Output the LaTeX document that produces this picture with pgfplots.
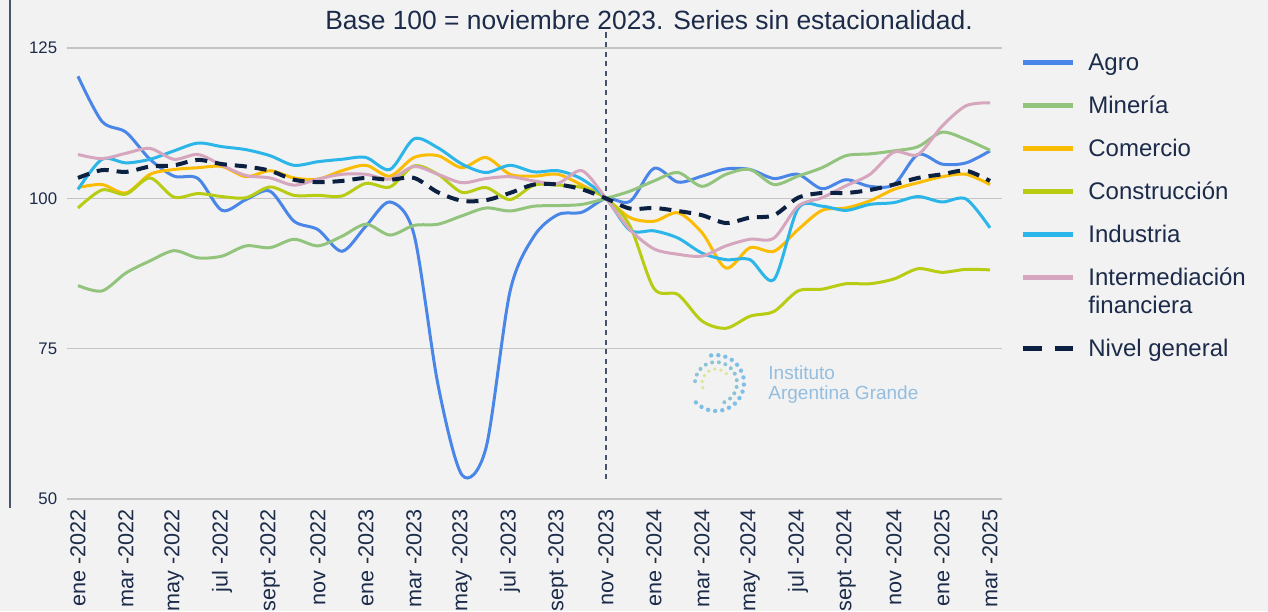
\documentclass[border=0pt]{standalone}
\usepackage{fontspec}
\setmainfont{Liberation Sans}
\usepackage{pgfplots}
\usepackage{pgfplotstable}
\pgfplotsset{compat=1.18}

\definecolor{agro}{HTML}{4A86E8}
\definecolor{mineria}{HTML}{93C47D}
\definecolor{comercio}{HTML}{FBBC04}
\definecolor{constr}{HTML}{B7CC12}
\definecolor{industria}{HTML}{2BB5E8}
\definecolor{interm}{HTML}{D5A6BD}
\definecolor{nivel}{HTML}{0C2142}
\definecolor{txt}{HTML}{1C2B4A}
\definecolor{bg}{HTML}{F2F2F2}
\definecolor{gridc}{HTML}{C4C4C4}
\definecolor{leftline}{HTML}{4A5570}
\definecolor{vline}{HTML}{46536B}
\definecolor{logotext}{HTML}{93BEE0}
\definecolor{logoblue}{HTML}{7FBFE6}
\definecolor{logogreen}{HTML}{BFD88A}
\definecolor{logoyellow}{HTML}{DDE39A}

\pgfplotstableread{
x agro mine come cons indu inte nive
0 120.3 85.5 101.8 98.4 101.5 107.3 103.4
1 112.8 84.6 102.3 101.4 106.5 106.6 104.7
2 111.0 87.6 100.9 100.7 105.9 107.5 104.4
3 106.5 89.6 104.0 103.4 106.5 108.3 105.3
4 103.7 91.3 104.8 100.2 107.9 106.5 105.5
5 103.3 90.1 105.1 100.8 109.2 107.3 106.4
6 98.0 90.4 105.3 100.3 108.6 105.5 105.7
7 99.8 92.1 103.6 100.1 108.1 103.8 105.3
8 101.2 91.8 104.6 101.9 107.1 103.4 104.6
9 96.2 93.2 103.4 100.5 105.5 102.2 103.1
10 94.8 92.1 103.2 100.5 106.1 103.2 102.7
11 91.2 93.7 104.6 100.4 106.5 104.0 102.9
12 95.4 95.7 105.5 102.5 106.8 104.0 103.4
13 99.4 93.9 103.7 101.9 104.8 103.2 103.1
14 94.0 95.5 106.8 105.4 109.9 105.3 103.4
15 69.0 95.7 107.1 104.0 108.4 104.0 101.0
16 54.0 97.1 105.1 101.0 105.7 102.6 99.6
17 58.5 98.4 106.8 101.8 104.3 103.3 99.7
18 84.5 97.9 104.0 99.8 105.5 103.6 100.9
19 93.7 98.7 103.7 102.2 104.4 102.9 102.3
20 97.3 98.8 104.0 102.2 104.6 102.5 102.3
21 97.7 99.0 102.2 101.8 103.2 104.6 101.5
22 100.0 100.0 100.0 100.0 100.0 100.0 100.0
23 99.5 101.2 96.8 95.4 94.7 94.8 98.3
24 105.0 102.9 96.2 85.0 94.6 91.6 98.4
25 102.7 104.3 97.6 84.0 93.4 90.7 97.9
26 103.7 102.0 94.3 79.6 90.9 90.4 97.2
27 104.9 104.0 88.4 78.4 89.8 92.1 95.9
28 104.8 104.8 91.8 80.4 89.8 93.2 96.8
29 103.3 102.3 91.2 81.2 86.5 93.4 97.2
30 104.0 103.7 94.8 84.6 98.3 98.7 100.1
31 101.6 105.1 98.0 84.9 98.7 100.1 100.9
32 103.1 107.1 98.4 85.8 98.0 102.1 100.9
33 102.0 107.4 99.6 85.8 99.0 104.0 101.4
34 102.3 107.9 101.5 86.6 99.3 107.7 102.3
35 107.3 108.6 102.6 88.3 100.3 107.3 103.4
36 105.7 111.0 103.6 87.7 99.4 112.0 104.0
37 105.9 109.8 104.0 88.2 99.9 115.4 104.6
38 107.9 108.0 102.3 88.1 95.1 115.9 102.9
}\data

\begin{document}
\begin{tikzpicture}
\fill[bg] (-33.5pt,-56pt) rectangle (600.5pt,249.5pt);
\draw[leftline, line width=1pt] (-28.5pt,249.5pt) -- (-28.5pt,-4.5pt);
% logo
\begin{scope}[line cap=round]
\draw[logoblue, line width=2.2pt, dash pattern=on 0pt off 3.6pt] (324.5pt,58pt) ++(100:14pt) arc[start angle=100, end angle=-140, radius=14pt];
\draw[logoblue!80!logogreen, line width=2pt, dash pattern=on 0pt off 3.4pt] (324.5pt,58pt) ++(175:10.5pt) arc[start angle=175, end angle=-70, radius=10.5pt];
\draw[logoyellow, line width=1.8pt, dash pattern=on 0pt off 3.2pt] (324.5pt,58pt) ++(200:7pt) arc[start angle=200, end angle=20, radius=7pt];
\end{scope}
\node[anchor=west, align=left, font=\fontsize{9.5}{10}\selectfont, text=logotext, inner sep=0pt] at (350.5pt,57pt) {Instituto\\Argentina Grande};
\node[font=\fontsize{13.2}{15}\selectfont, text=txt, inner sep=0pt] at (291pt,239.5pt) {Base 100 = noviembre 2023. Series sin estacionalidad.};

\begin{axis}[
  at={(0pt,0pt)}, anchor=south west,
  scale only axis, width=467.5pt, height=234.5pt,
  xmin=-0.458, xmax=38.5, ymin=50, ymax=128,
  axis line style={draw=none},
  major tick length=0pt,
  ytick={50,75,100,125},
  ymajorgrids, grid style={gridc, line width=0.75pt},
  xtick={0,2,...,38},
  xticklabels={ene -2022, mar -2022, may -2022, jul -2022, sept -2022, nov -2022, ene -2023, mar -2023, may -2023, jul -2023, sept -2023, nov -2023, ene -2024, mar -2024, may -2024, jul -2024, sept -2024, nov -2024, ene -2025, mar -2025},
  /pgf/number format/assume math mode=true,
  xticklabel style={rotate=90, anchor=east, font=\fontsize{10.8}{12}\selectfont, text=txt, inner sep=0pt, inner xsep=5pt},
  yticklabel style={font=\fontsize{8.4}{9}\selectfont, text=txt, inner sep=0pt, inner xsep=4.75pt},
  clip=false,
  legend cell align=left,
  legend style={at={(axis description cs:1,1)}, anchor=north west, xshift=9.25pt, yshift=-9pt,
    draw=none, fill=none, inner sep=0pt, row sep=7.5pt, column sep=6.25pt,
    font=\fontsize{12}{14}\selectfont, text=txt,
    nodes={inner sep=0pt, text height=11pt, text depth=3pt}},
  legend image code/.code={\draw[#1, line width=2.5pt, solid] (0pt,0pt) -- (25pt,0pt);},
  every axis plot/.append style={line width=1.5pt, smooth, tension=0.5, no marks},
]
\addplot[forget plot, vline, line width=0.8pt, dash pattern=on 2.6pt off 2.2pt, sharp plot] coordinates {(22,53.3) (22,127.8)};
\addplot[agro] table[x=x, y=agro] {\data};
\addlegendentry{Agro}
\addplot[mineria] table[x=x, y=mine] {\data};
\addlegendentry{Minería}
\addplot[comercio] table[x=x, y=come] {\data};
\addlegendentry{Comercio}
\addplot[constr] table[x=x, y=cons] {\data};
\addlegendentry{Construcción}
\addplot[industria] table[x=x, y=indu] {\data};
\addlegendentry{Industria}
\addplot[interm, legend image code/.code={\draw[interm, line width=2.5pt, solid] (0pt,7pt) -- (25pt,7pt);}] table[x=x, y=inte] {\data};
\addlegendentry[text depth=17pt]{\parbox[t]{4cm}{Intermediación\\financiera}}
\addplot[nivel, line width=2pt, dash pattern=on 6pt off 4pt, legend image code/.code={\draw[nivel, line width=2.5pt, dash pattern=on 9.5pt off 6.5pt] (0pt,0pt) -- (25pt,0pt);}] table[x=x, y=nive] {\data};
\addlegendentry{Nivel general}
\end{axis}
\pgfresetboundingbox
\useasboundingbox (-33.5pt,-56pt) rectangle (600.5pt,249.5pt);
\end{tikzpicture}
\end{document}
